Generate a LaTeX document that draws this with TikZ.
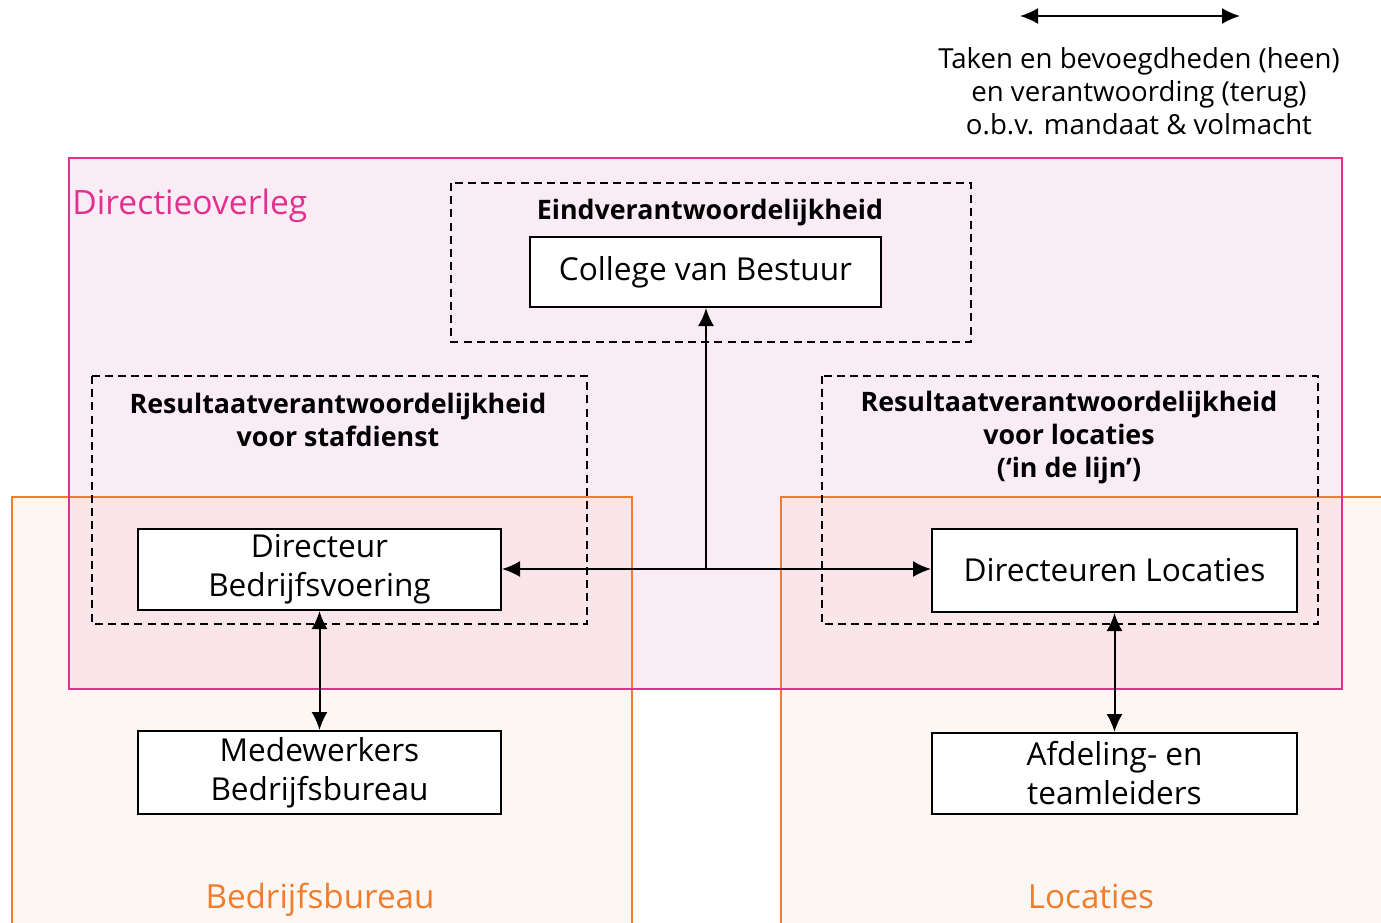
\documentclass[tikz,border=0pt]{standalone}
\usepackage{fontspec}
\setmainfont{Open Sans}
\usetikzlibrary{arrows.meta,positioning}

\definecolor{dirpink}{RGB}{226,48,142}
\definecolor{dirfill}{RGB}{250,236,244}
\definecolor{locorange}{RGB}{240,125,45}
\definecolor{locfill}{RGB}{253,247,243}
\definecolor{bothfill}{RGB}{249,229,234}

\begin{document}
\begin{tikzpicture}[
        x=0.5pt, y=-0.5pt,
        box/.style={draw=black, fill=white, line width=1pt, align=center,
            font=\fontsize{15.8}{19.5}\selectfont, inner sep=0pt},
        head/.style={align=center, font=\bfseries\fontsize{13.4}{16.5}\selectfont},
        zone/.style={black, line width=0.8pt, dash pattern=on 4pt off 2.6pt},
        dirzone/.style={draw=dirpink, line width=1pt},
        loczone/.style={draw=locorange, line width=0.7pt},
        link/.style={line width=1pt, {Latex[length=9pt,width=8pt]}-{Latex[length=9pt,width=8pt]}},
        tolink/.style={line width=1pt, -{Latex[length=9pt,width=8pt]}},
    ]
    \clip (0,0) rectangle (1381,922);

    % regions
    \fill[locfill] (12,497) rectangle (632,930);
    \fill[locfill] (781,497) rectangle (1390,930);
    \fill[dirfill] (69,158) rectangle (1342,689);
    \fill[bothfill] (69,497) rectangle (632,689);
    \fill[bothfill] (781,497) rectangle (1342,689);
    \draw[loczone] (12,930) -- (12,497) -- (632,497) -- (632,930);
    \draw[loczone] (781,930) -- (781,497) -- (1390,497);
    \draw[dirzone] (69,158) rectangle (1342,689);

    \node[anchor=base west, inner sep=0pt, text=dirpink, font=\fontsize{16.8}{18}\selectfont]
        (dirlabel) at (72,214) {Directieoverleg};
    \node[anchor=base, text=locorange, font=\fontsize{16.6}{18}\selectfont]
        (bblabel) at (320,908) {Bedrijfsbureau};
    \node[anchor=base, text=locorange, font=\fontsize{16.6}{18}\selectfont]
        (loclabel) at (1091,908) {Locaties};

    % responsibilities
    \draw[zone] (451,183) rectangle (971,342);
    \draw[zone] (92,376) rectangle (587,624);
    \draw[zone] (822,376) rectangle (1318,624);
    \node[head] (eind) at (710,213) {Eindverantwoordelijkheid};
    \node[head] (resstaf) at (338,420) {Resultaatverantwoordelijkheid\\voor stafdienst};
    \node[head] (resloc) at (1069,438) {Resultaatverantwoordelijkheid\\voor locaties\\(‘in de lijn’)};

    % functions
    \node[box, minimum width=175.5pt, minimum height=35pt] (cvb) at (705.5,272) {College van Bestuur};
    \node[box, minimum width=181.5pt, minimum height=40.5pt] (dbv) at (319.5,569.5) {Directeur\\Bedrijfsvoering};
    \node[box, minimum width=182.5pt, minimum height=41.5pt] (dloc) at (1114.5,570.5) {Directeuren Locaties};
    \node[box, minimum width=181.5pt, minimum height=41.5pt] (mbb) at (319.5,772.5) {Medewerkers\\Bedrijfsbureau};
    \node[box, minimum width=182.5pt, minimum height=40.5pt] (afd) at (1114.5,773.5) {Afdeling- en\\teamleiders};

    % connectors
    \coordinate (split) at (706,569);
    \draw[tolink] (split) -- (cvb.south -| split);
    \draw[tolink] (split) -- (dbv.east |- split);
    \draw[tolink] (split) -- (dloc.west |- split);
    \draw[link] (dbv.south) -- (mbb.north);
    \draw[link] (dloc.south) -- (afd.north);

    % legend
    \coordinate (legl) at (1020,16);
    \coordinate (legr) at (1240,16);
    \draw[link] (legl) -- (legr);
    \node[align=center, font=\fontsize{13.8}{16.5}\selectfont] (legtext) at (1139,91)
        {Taken en bevoegdheden (heen)\\en verantwoording (terug)\\o.b.v. mandaat \& volmacht};
\end{tikzpicture}
\end{document}
